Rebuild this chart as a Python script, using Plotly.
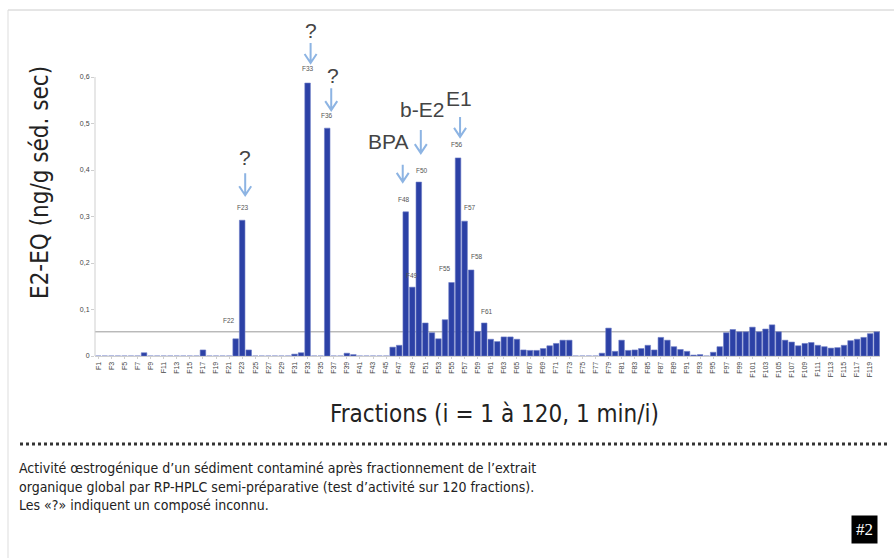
import plotly.graph_objects as go

# ---------------- data ----------------
fractions = [f"F{i}" for i in range(1, 121)]
values = [
    0, 0, 0, 0, 0, 0, 0, 0.007, 0, 0,            # F1-F10
    0, 0, 0, 0, 0, 0, 0.013, 0, 0, 0,            # F11-F20
    0, 0.037, 0.292, 0.013, 0, 0, 0, 0, 0, 0,    # F21-F30
    0.004, 0.007, 0.587, 0, 0, 0.49, 0, 0, 0.006, 0.003,   # F31-F40
    0, 0, 0, 0, 0, 0.019, 0.023, 0.31, 0.148, 0.374,       # F41-F50
    0.071, 0.05, 0.037, 0.078, 0.158, 0.426, 0.29, 0.185, 0.053, 0.071,  # F51-F60
    0.036, 0.031, 0.041, 0.041, 0.036, 0.013, 0.012, 0.012, 0.016, 0.022,  # F61-F70
    0.027, 0.034, 0.034, 0, 0, 0, 0, 0.006, 0.06, 0.01,    # F71-F80
    0.034, 0.012, 0.013, 0.016, 0.023, 0.013, 0.04, 0.034, 0.02, 0.014,  # F81-F90
    0.01, 0.002, 0.003, 0, 0.008, 0.02, 0.05, 0.057, 0.052, 0.052,       # F91-F100
    0.062, 0.052, 0.058, 0.067, 0.052, 0.034, 0.03, 0.022, 0.027, 0.029, # F101-F110
    0.023, 0.02, 0.017, 0.018, 0.023, 0.033, 0.036, 0.04, 0.048, 0.052,  # F111-F120
]
threshold = 0.052
y_tick_vals = [0, 0.1, 0.2, 0.3, 0.4, 0.5, 0.6]
y_tick_text = ["0", "0,1", "0,2", "0,3", "0,4", "0,5", "0,6"]
x_tick_labels = fractions[::2]

# bar labels: (bar it sits on, text)
bar_labels = [("F22", "F22"), ("F23", "F23"), ("F33", "F33"), ("F36", "F36"),
              ("F48", "F48"), ("F49", "F49"), ("F50", "F50"), ("F55", "F55"),
              ("F56", "F56"), ("F57", "F57"), ("F58", "F58"), ("F60", "F61")]
label_offsets = [(-7, 18), (1, 13), (0, 15), (0, 13), (-2, 12), (0, 12), (3, 12),
                 (-7, 14), (-1, 13), (5, 14), (6, 13), (3, 11)]

# arrows: bar, (gap above bar px, length px), x shift px
arrow_bars = ["F23", "F33", "F36", "F48", "F50", "F56"]
arrow_geo = [(25, 22), (20, 20), (18, 22), (30, 17), (29, 23), (21, 20)]
arrow_dx = [3, 3, 4, -3, 2, 2]

compound_texts = [("F23", "?"), ("F33", "?"), ("F36", "?"),
                  ("F48", "BPA"), ("F50", "b-E2"), ("F56", "E1")]
compound_offsets = [(3, 63), (3, 53), (6, 53), (-18, 70), (3, 73), (1, 59)]

x_title = "Fractions (i = 1 à 120, 1 min/i)"
y_title = "E2-EQ (ng/g séd. sec)"
caption_lines = [
    "Activité œstrogénique d’un sédiment contaminé après fractionnement de l’extrait",
    "organique global par RP-HPLC semi-préparative (test d’activité sur 120 fractions).",
    "Les «?» indiquent un composé inconnu.",
]
badge = "#2"

# ---------------- figure ----------------
W, H = 894, 558
L, R, T, B = 95, 14, 20, 202
plot_w, plot_h = W - L - R, H - T - B
px_per_unit = 465.0
y_max = plot_h / px_per_unit

def px_x(px):
    return (px - L) / plot_w

def px_y(py):
    return (H - B - py) / plot_h

NARROW = "Liberation Sans Narrow, Arial Narrow, DejaVu Sans Condensed, sans-serif"

fig = go.Figure(go.Bar(
    x=fractions, y=values,
    marker=dict(color="#2c41a6", line=dict(color="#6b7cc6", width=0.6)),
    width=0.85, hoverinfo="x+y",
))

val = dict(zip(fractions, values))
ann = []
for (bar, txt), (dx, dy) in zip(bar_labels, label_offsets):
    ann.append(dict(x=bar, y=val[bar], xref="x", yref="y", text=txt, showarrow=False,
                    xanchor="center", yanchor="middle", xshift=dx, yshift=dy,
                    font=dict(family="Arial, Liberation Sans, sans-serif", size=6.5, color="#555")))
for (bar, txt), (dx, dy) in zip(compound_texts, compound_offsets):
    ann.append(dict(x=bar, y=val[bar], xref="x", yref="y", text=txt, showarrow=False,
                    xanchor="center", yanchor="middle", xshift=dx, yshift=dy,
                    font=dict(family="Liberation Sans, Arial, sans-serif", size=21, color="#444")))

ann.append(dict(xref="paper", yref="paper", x=px_x(40), y=px_y(183), text=y_title,
                textangle=-90, showarrow=False, xanchor="center", yanchor="middle",
                font=dict(family=NARROW, size=24, color="#222")))
ann.append(dict(xref="paper", yref="paper", x=px_x(494), y=px_y(414), text=x_title,
                showarrow=False, xanchor="center", yanchor="middle",
                font=dict(family=NARROW, size=24, color="#222")))
for i, line in enumerate(caption_lines):
    ann.append(dict(xref="paper", yref="paper", x=px_x(17), y=px_y(468 + i * 18.5), text=line,
                    showarrow=False, xanchor="left", yanchor="middle",
                    font=dict(family=NARROW, size=14, color="#222")))
ann.append(dict(xref="paper", yref="paper", x=px_x(864), y=px_y(529), text=badge,
                showarrow=False, xanchor="center", yanchor="middle", bgcolor="#000",
                borderpad=4, font=dict(family="Liberation Serif, DejaVu Serif, serif", size=17, color="#fff")))

shapes = [
    dict(type="line", xref="paper", yref="y", x0=0, x1=1, y0=threshold, y1=threshold,
         line=dict(color="#9a9a9a", width=1), layer="below"),
    dict(type="line", xref="paper", yref="y", x0=0, x1=0, y0=0, y1=y_tick_vals[-1],
         line=dict(color="#cfcfcf", width=1)),
    dict(type="line", xref="paper", yref="paper", x0=px_x(20), x1=px_x(890),
         y0=px_y(444), y1=px_y(444), line=dict(color="#333", width=3, dash="dot")),
    dict(type="line", xref="paper", yref="paper", x0=px_x(8), x1=px_x(894),
         y0=px_y(10), y1=px_y(10), line=dict(color="#cccccc", width=1)),
    dict(type="line", xref="paper", yref="paper", x0=px_x(8), x1=px_x(8),
         y0=px_y(10), y1=px_y(558), line=dict(color="#dddddd", width=1)),
]
# light-blue V arrows, anchored on the bar tops (pixel offsets upward)
for bar, (gap, length), dx in zip(arrow_bars, arrow_geo, arrow_dx):
    top = gap + length
    path = (f"M{dx},{top} L{dx},{gap} "
            f"M{dx - 6},{gap + 9} L{dx},{gap} L{dx + 6},{gap + 9}")
    shapes.append(dict(type="path", xref="x", yref="y",
                       xsizemode="pixel", ysizemode="pixel",
                       xanchor=fractions.index(bar), yanchor=val[bar],
                       path=path, line=dict(color="#8db4e3", width=2)))

fig.update_layout(
    width=W, height=H, margin=dict(l=L, r=R, t=T, b=B),
    paper_bgcolor="white", plot_bgcolor="white", showlegend=False,
    bargap=0.15, annotations=ann, shapes=shapes,
    xaxis=dict(type="category", range=[-0.5, 119.5], tickmode="array",
               tickvals=x_tick_labels, ticktext=x_tick_labels, tickangle=-90,
               tickfont=dict(family="Arial, Liberation Sans, sans-serif", size=7, color="#444"),
               showline=True, linecolor="#cfcfcf", linewidth=1, ticks="outside",
               ticklen=2, tickcolor="#cfcfcf", showgrid=False, zeroline=False),
    yaxis=dict(range=[0, y_max], tickmode="array", tickvals=y_tick_vals, ticktext=y_tick_text,
               tickfont=dict(family="Arial, Liberation Sans, sans-serif", size=7, color="#444"),
               ticks="outside", ticklen=3, tickcolor="#cfcfcf", showgrid=False,
               zeroline=False, showline=False),
)

fig.write_html("out.html", config={"displayModeBar": False},
               post_script="document.body.style.margin='0px';")
